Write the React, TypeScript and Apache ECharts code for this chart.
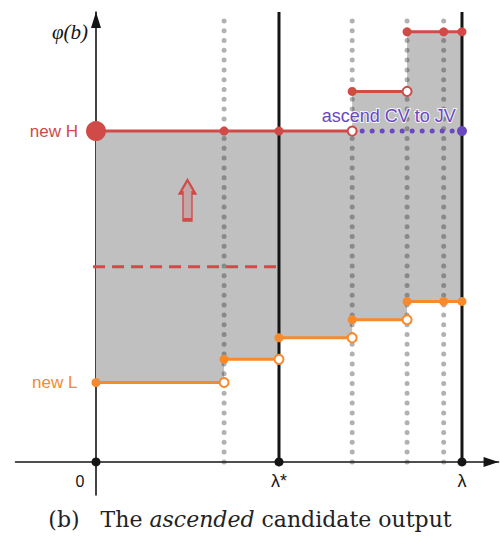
import React, { useEffect, useRef } from "react";
import * as echarts from "echarts";

// ---- data (abstract units) ----
const xBreaks = [0, 3.5, 5, 7, 8.5, 10];
const upperLevels = [10, 10, 10, 11.2, 13];
const lowerLevels = [2.4, 3.1, 3.75, 4.3, 4.85];
const dotColumns = [3.5, 7, 8.5, 9.5];
const solidColumns = [5, 10];
const markXs = [0, 3.5, 5, 7, 8.5, 9.5, 10];
const axisTicks = [0, 5, 10];
const axisTickLabels = ["0", "λ*", "λ"];
const columnTop = 13.6;
const midDashLevel = 5.9;
const midDashRange = [-0.08, 5];
const ascendRange = [7, 10];
const ascendLevel = 10;
const ascendLabelPos = [8.0, 10.45];
const arrowPos = [2.5, 7.92];
const yLabelPos = [-0.71, 13.0];

const RED = "#d04a47";
const ORANGE = "#f68a2c";
const PURPLE = "#6a48c0";
const BLACK = "#151515";
const SANS = "Liberation Sans, Arial, sans-serif";

function levelAt(x: number, levels: number[]) {
  for (let i = 0; i < levels.length; i++) {
    if (x >= xBreaks[i] && x < xBreaks[i + 1]) return levels[i];
  }
  return levels[levels.length - 1];
}

function segments(levels: number[]) {
  const segs: number[][][] = [];
  let start = 0;
  for (let i = 1; i <= levels.length; i++) {
    if (i === levels.length || levels[i] !== levels[start]) {
      segs.push([
        [xBreaks[start], levels[start]],
        [xBreaks[i], levels[start]],
      ]);
      start = i;
    }
  }
  return segs;
}

function openDots(levels: number[]) {
  const pts: number[][] = [];
  for (let i = 1; i < levels.length; i++) {
    if (levels[i] !== levels[i - 1]) pts.push([xBreaks[i], levels[i - 1]]);
  }
  return pts;
}

export default function App() {
  const ref = useRef<HTMLDivElement>(null);
  useEffect(() => {
    if (!ref.current) return;
    const chart = echarts.init(ref.current, undefined, { renderer: "svg" });
    const series: any[] = [];

    // gray fill between lower and upper step functions
    series.push({
      type: "custom",
      silent: true,
      z: 1,
      data: [[0, 0]],
      renderItem: (_p: any, api: any) => {
        const pts: number[][] = [];
        for (let i = 0; i < upperLevels.length; i++) {
          pts.push(api.coord([xBreaks[i], upperLevels[i]]));
          pts.push(api.coord([xBreaks[i + 1], upperLevels[i]]));
        }
        for (let i = lowerLevels.length - 1; i >= 0; i--) {
          pts.push(api.coord([xBreaks[i + 1], lowerLevels[i]]));
          pts.push(api.coord([xBreaks[i], lowerLevels[i]]));
        }
        return { type: "polygon", shape: { points: pts }, style: { fill: "#c0c0c0" } };
      },
    });

    // dotted gray columns
    dotColumns.forEach((x) => {
      series.push({
        type: "line",
        z: 2,
        silent: true,
        symbol: "none",
        clip: false,
        data: [
          [x, 0],
          [x, columnTop],
        ],
        lineStyle: { color: "rgba(40,40,40,0.36)", width: 5, type: [0, 9.8], cap: "round" },
      });
    });

    // solid black columns
    solidColumns.forEach((x) => {
      series.push({
        type: "line",
        z: 3,
        silent: true,
        symbol: "none",
        clip: false,
        data: [
          [x, 0],
          [x, columnTop],
        ],
        lineStyle: { color: BLACK, width: 3 },
      });
    });

    // dashed red mid line
    series.push({
      type: "line",
      z: 3,
      symbol: "none",
      data: [
        [midDashRange[0], midDashLevel],
        [midDashRange[1], midDashLevel],
      ],
      lineStyle: { color: RED, width: 3, type: [12, 7] },
    });

    // step segments
    segments(upperLevels).forEach((seg) => {
      series.push({ type: "line", z: 4, symbol: "none", data: seg, lineStyle: { color: RED, width: 3 } });
    });
    segments(lowerLevels).forEach((seg) => {
      series.push({ type: "line", z: 4, symbol: "none", data: seg, lineStyle: { color: ORANGE, width: 3 } });
    });

    // purple dotted ascend line
    series.push({
      type: "line",
      z: 4,
      symbol: "none",
      data: [
        [ascendRange[0], ascendLevel],
        [ascendRange[1], ascendLevel],
      ],
      lineStyle: { color: PURPLE, width: 5, type: [0, 10], cap: "round" },
    });

    // filled dots
    series.push({
      type: "scatter",
      z: 6,
      symbolSize: 9,
      itemStyle: { color: RED, opacity: 1 },
      data: markXs.filter((x) => x !== 0).map((x) => [x, levelAt(x, upperLevels)]),
    });
    series.push({
      type: "scatter",
      z: 6,
      symbolSize: 9,
      itemStyle: { color: ORANGE, opacity: 1 },
      data: markXs.map((x) =>
        x === 0
          ? {
              value: [x, levelAt(x, lowerLevels)],
              label: {
                show: true,
                formatter: "new L",
                position: "left",
                distance: 14,
                color: ORANGE,
                fontSize: 17,
                fontFamily: SANS,
              },
            }
          : [x, levelAt(x, lowerLevels)]
      ),
    });
    // open dots
    series.push({
      type: "scatter",
      z: 6,
      symbolSize: 9,
      itemStyle: { color: "#ffffff", borderColor: RED, borderWidth: 2, opacity: 1 },
      data: openDots(upperLevels),
    });
    series.push({
      type: "scatter",
      z: 6,
      symbolSize: 9,
      itemStyle: { color: "#ffffff", borderColor: ORANGE, borderWidth: 2, opacity: 1 },
      data: openDots(lowerLevels),
    });
    // big red H dot
    series.push({
      type: "scatter",
      z: 7,
      symbolSize: 20,
      itemStyle: { color: RED, opacity: 1 },
      data: [
        {
          value: [0, upperLevels[0]],
          label: {
            show: true,
            formatter: "new H",
            position: "left",
            distance: 8,
            color: RED,
            fontSize: 17,
            fontFamily: SANS,
          },
        },
      ],
    });
    // purple end dot
    series.push({
      type: "scatter",
      z: 7,
      symbolSize: 10,
      itemStyle: { color: PURPLE, opacity: 1 },
      data: [[ascendRange[1], ascendLevel]],
    });
    // ascend label
    series.push({
      type: "scatter",
      z: 8,
      symbolSize: 0,
      silent: true,
      itemStyle: { opacity: 1 },
      data: [ascendLabelPos],
      label: {
        show: true,
        position: "inside",
        formatter: "ascend CV to JV",
        color: PURPLE,
        fontSize: 18,
        fontFamily: SANS,
        textBorderColor: "rgba(255,255,255,0.85)",
        textBorderWidth: 2,
      },
    });
    // hollow up arrow
    series.push({
      type: "scatter",
      z: 8,
      silent: true,
      symbol: "path://M7.5,0 L15,13 L12,13 L12,40 L3,40 L3,13 L0,13 Z",
      symbolSize: [15, 40],
      itemStyle: { color: "rgba(208,74,71,0.22)", borderColor: RED, borderWidth: 2.2, opacity: 1 },
      data: [arrowPos],
    });
    // axis dots with labels
    series.push({
      type: "scatter",
      z: 9,
      symbolSize: 9,
      itemStyle: { color: BLACK, opacity: 1 },
      data: axisTicks.map((x, i) => ({
        value: [x, 0],
        label: {
          show: true,
          formatter: axisTickLabels[i],
          position: "bottom",
          distance: i === 0 ? 7 : 6,
          offset: i === 0 ? [-16, 0] : [0, 0],
          color: BLACK,
          fontSize: i === 0 ? 16 : 18,
          fontFamily: SANS,
        },
      })),
    });
    // y axis label
    series.push({
      type: "scatter",
      z: 9,
      symbolSize: 0,
      silent: true,
      itemStyle: { opacity: 1 },
      data: [yLabelPos],
      label: {
        show: true,
        position: "inside",
        formatter: "φ(b)",
        color: BLACK,
        fontSize: 21,
        fontStyle: "italic",
        fontFamily: "Liberation Serif, DejaVu Serif, serif",
      },
    });

    chart.setOption({
      animation: false,
      title: {
        text: "{n|(b)   The }{i|ascended}{n| candidate output}",
        left: "center",
        top: 503,
        textStyle: {
          fontWeight: "normal",
          rich: {
            n: { fontFamily: "DejaVu Serif, serif", fontSize: 22, fontWeight: "normal", color: "#222" },
            i: {
              fontFamily: "DejaVu Serif, serif",
              fontSize: 22,
              fontWeight: "normal",
              fontStyle: "italic",
              color: "#222",
            },
          },
        },
      },
      grid: { left: 15.48, right: 1.42, top: 12, bottom: 41 },
      xAxis: {
        type: "value",
        min: -2.2,
        max: 11,
        splitLine: { show: false },
        axisTick: { show: false },
        axisLabel: { show: false },
        axisLine: {
          show: true,
          onZero: true,
          symbol: ["none", "triangle"],
          symbolSize: [10, 15],
          symbolOffset: [0, -7.5],
          lineStyle: { color: BLACK, width: 1.6 },
        },
      },
      yAxis: {
        type: "value",
        min: -1,
        max: 13.6,
        splitLine: { show: false },
        axisTick: { show: false },
        axisLabel: { show: false },
        axisLine: {
          show: true,
          onZero: true,
          symbol: ["none", "triangle"],
          symbolSize: [10, 16],
          symbolOffset: [0, -8],
          lineStyle: { color: BLACK, width: 1.6 },
        },
      },
      series,
    });
    return () => chart.dispose();
  }, []);
  return (
    <div
      ref={ref}
      style={{ position: "fixed", left: 0, top: 0, width: 500, height: 536, background: "#fff" }}
    />
  );
}
